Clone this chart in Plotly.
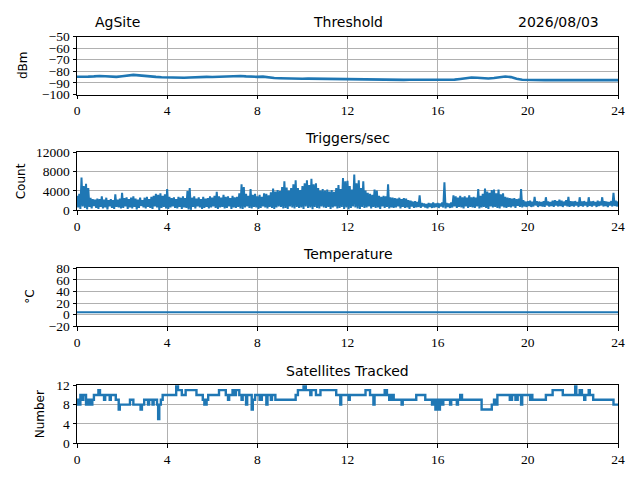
import plotly.graph_objects as go

BLUE = "#1f77b4"

# ---------------- data ----------------
# Threshold (dBm), sampled every 0.25 h from 0 to 24
thr_t = [i * 0.25 for i in range(97)]
thr_v = [-84.7, -84.9, -84.6, -84.4, -84.0, -84.3, -84.6, -84.8, -84.2, -83.6,
         -83.1, -83.5, -84.1, -84.6, -84.8, -85.1, -85.3, -85.5, -85.4, -85.5,
         -85.4, -85.1, -84.9, -84.8, -84.9, -84.7, -84.4, -84.1, -83.9, -84.0,
         -84.4, -84.9, -84.8, -84.6, -85.3, -85.8, -86.0, -86.2, -86.1, -86.3,
         -86.4, -86.3, -86.4, -86.5, -86.4, -86.3, -86.4, -86.5, -86.5, -86.6,
         -86.8, -86.9, -87.0, -87.1, -87.2, -87.3, -87.3, -87.4, -87.4, -87.3,
         -87.3, -87.4, -87.3, -87.4, -87.5, -87.5, -87.6, -87.2, -86.6, -85.9,
         -85.3, -85.6, -86.1, -86.2, -85.8, -85.2, -84.5, -85.0, -86.5, -87.3,
         -87.5, -87.6, -87.5, -87.6, -87.6, -87.5, -87.6, -87.6, -87.5, -87.6,
         -87.6, -87.5, -87.6, -87.6, -87.5, -87.6, -87.6]

# Triggers/sec: local maxima every 0.1 h (t = 0.0 ... 24.0)
trig_hi = [3000, 3400, 6800, 5000, 5500, 4600, 2600, 2300, 2200, 2400,
           2300, 2900, 2200, 2600, 2100, 2300, 2100, 3300, 2200, 2400,
           3600, 2500, 2700, 2300, 2600, 2900, 2400, 2200, 2600, 2100,
           2600, 2800, 2300, 2800, 3000, 3400, 3200, 3500, 3000, 3300,
           4400, 2800, 2500, 2700, 2300, 2800, 2600, 2900, 2500, 4000,
           4600, 2600, 2900, 2400, 2700, 2300, 2800, 2400, 2500, 2900,
           2600, 3000, 3800, 2900, 2600, 3200, 2800, 2900, 2500, 3000,
           2700, 2800, 3500, 5400, 4800, 3400, 3000, 4400, 3200, 3400,
           2900, 3200, 2800, 3500, 3400, 3100, 3700, 4500, 3900, 4200,
           4000, 4800, 6000, 4700, 4100, 4600, 5400, 6200, 4600, 4200,
           5000, 5600, 6200, 5200, 6500, 5400, 5600, 4600, 4100, 4400,
           4100, 4300, 3900, 4200, 3800, 4600, 5200, 4400, 6700, 6000,
           6100, 5000, 4300, 7400, 5600, 6200, 4600, 6000, 4100, 3600,
           3400, 3200, 4300, 4100, 3000, 2800, 3000, 2900, 5400, 2700,
           2600, 2500, 2400, 2600, 2300, 2500, 2400, 2100, 2000, 1800,
           1900, 1700, 3100, 1500, 1400, 1300, 1500, 1400, 1600, 1400,
           1500, 1400, 1600, 5800, 1500, 1400, 1600, 3100, 2900, 2600,
           3000, 2700, 2900, 2600, 3100, 2700, 2800, 2600, 4400, 3000,
           3400, 4500, 3900, 3600, 4200, 4300, 3500, 4300, 3300, 3500,
           2800, 2600, 2500, 2400, 2500, 2300, 2400, 4400, 2100, 1800,
           1900, 2000, 1800, 2800, 1900, 1800, 1700, 1900, 2700, 1800,
           1700, 2000, 2100, 1900, 2200, 2000, 1800, 2100, 2800, 1900,
           1800, 1900, 1700, 2700, 1800, 1900, 1700, 2700, 1800, 1900,
           1700, 2000, 1800, 2700, 1900, 1800, 1700, 1900, 3600, 2000,
           1800]
# Triggers/sec: local minima between them (t = 0.05 ... 23.95)
trig_lo = [600, 300, 800, 500, 200, 700, 400, 900, 500, 300,
           700, 400, 600, 200, 800, 500, 300, 700, 600, 400,
           500, 800, 300, 600, 400, 700, 200, 500, 900, 600,
           400, 700, 500, 300, 800, 600, 100, 500, 700, 400,
           300, 600, 800, 500, 400, 700, 300, 600, 500, 200,
           100, 700, 400, 800, 600, 300, 500, 700, 400, 600,
           800, 500, 300, 600, 700, 400, 500, 800, 300, 600,
           500, 700, 400, 300, 600, 800, 500, 400, 700, 600,
           300, 500, 800, 600, 400, 700, 500, 300, 600, 800,
           700, 400, 500, 300, 800, 600, 400, 700, 500, 600,
           300, 800, 500, 600, 200, 700, 500, 400, 800, 600,
           500, 700, 300, 600, 800, 400, 500, 700, 300, 600,
           200, 500, 800, 600, 400, 300, 700, 500, 600, 800,
           400, 700, 500, 600, 300, 800, 500, 700, 400, 600,
           500, 600, 800, 400, 700, 500, 600, 300, 800, 500,
           600, 700, 500, 800, 600, 400, 700, 500, 600, 700,
           500, 800, 600, 400, 700, 500, 600, 800, 500, 700,
           600, 400, 800, 500, 700, 600, 500, 800, 400, 600,
           700, 500, 300, 800, 600, 700, 500, 400, 800, 600,
           500, 700, 600, 800, 500, 900, 700, 600, 800, 700,
           900, 700, 800, 1000, 700, 900, 800, 700, 1000, 800,
           900, 700, 1000, 800, 900, 700, 1000, 800, 700, 900,
           800, 1000, 700, 900, 800, 1000, 700, 900, 800, 1000,
           700, 900, 1000, 800, 900, 700, 1000, 800, 900, 800]

# Temperature (deg C), hourly
temp_t = list(range(25))
temp_v = [4.2, 4.1, 4.0, 4.1, 4.2, 4.1, 4.0, 4.0, 4.1, 4.2, 4.2, 4.1, 4.0,
          4.1, 4.2, 4.2, 4.1, 4.0, 4.1, 4.2, 4.1, 4.1, 4.0, 4.1, 4.2]

# Satellites tracked (step changes)
sat_t = [0.00, 0.05, 0.10, 0.15, 0.25, 0.28, 0.40, 0.45, 0.50, 0.55, 0.62, 0.68,
         0.75, 0.95, 1.02, 1.20, 1.25, 1.45, 1.50, 1.72, 1.85, 1.90, 2.35, 2.50,
         2.82, 2.88, 2.98, 3.15, 3.20, 3.35, 3.40, 3.55, 3.60, 3.65, 3.72, 3.80,
         4.40, 4.48, 4.65, 4.82, 5.30, 5.58, 5.65, 5.75, 5.82, 6.30, 6.60, 6.70,
         6.75, 6.90, 7.00, 7.05, 7.20, 7.30, 7.35, 7.50, 7.55, 7.75, 7.80, 7.90,
         8.10, 8.20, 8.40, 8.45, 8.60, 8.65, 8.80, 9.70, 9.80, 10.05, 10.15, 10.35,
         10.40, 10.60, 10.80, 11.50, 11.68, 11.72, 12.05, 12.10, 12.80, 13.00, 13.15, 13.20,
         13.65, 13.75, 13.85, 13.95, 14.05, 14.40, 14.45, 15.05, 15.45, 15.75, 15.80, 15.90,
         15.95, 16.05, 16.10, 16.20, 16.25, 16.55, 16.60, 16.85, 16.90, 17.00, 17.08, 17.95,
         18.40, 18.50, 18.60, 18.65, 19.20, 19.30, 19.45, 19.55, 19.70, 19.75, 20.10, 20.15,
         20.20, 20.80, 21.10, 21.55, 22.10, 22.15, 22.30, 22.40, 22.50, 22.55, 22.70, 22.75,
         22.90, 23.80, 24.00]
sat_v = [8, 9, 8, 10, 9, 10, 8, 9, 8, 9, 8, 9,
         10, 11, 10, 9, 10, 9, 10, 9, 7, 8, 9, 8,
         7, 8, 9, 8, 9, 8, 9, 8, 5, 8, 9, 10,
         12, 11, 10, 11, 10, 9, 8, 9, 10, 11, 10, 9,
         10, 11, 10, 11, 10, 9, 10, 8, 10, 7, 9, 10,
         9, 10, 8, 10, 9, 10, 9, 10, 11, 12, 11, 10,
         11, 10, 11, 10, 8, 10, 9, 10, 11, 10, 8, 10,
         11, 10, 9, 10, 9, 8, 9, 10, 9, 8, 9, 7,
         9, 7, 9, 8, 9, 8, 9, 8, 9, 10, 9, 7,
         8, 9, 8, 10, 9, 10, 9, 10, 8, 10, 9, 10,
         9, 10, 11, 10, 12, 10, 11, 10, 9, 10, 11, 10,
         9, 8, 8]

x_ticks = [0, 4, 8, 12, 16, 20, 24]
panels = [
    dict(title="Threshold", ylabel="dBm", yrange=[-100, -50], ydtick=10, ylab_x=22.5),
    dict(title="Triggers/sec", ylabel="Count", yrange=[0, 12000], ydtick=4000, ylab_x=21),
    dict(title="Temperature", ylabel="°C", yrange=[-20, 80], ydtick=20, ylab_x=30.5),
    dict(title="Satellites Tracked", ylabel="Number", yrange=[0, 12], ydtick=4, ylab_x=40),
]

# interleave maxima and minima into one zig-zag trace (dense sampled signal)
trig_t, trig_v = [], []
for k, v in enumerate(trig_hi):
    trig_t.append(k * 0.1)
    trig_v.append(v)
    if k < len(trig_lo):
        trig_t.append(k * 0.1 + 0.05)
        trig_v.append(trig_lo[k])

# ---------------- layout geometry (pixels) ----------------
W, H = 640, 480
X0, X1 = 77, 618
tops = [36.5, 152.3, 268.3, 385.3]
PH = 58

fig = go.Figure()

fig.add_trace(go.Scatter(x=thr_t, y=thr_v, mode="lines",
                         line=dict(color=BLUE, width=2.6), xaxis="x", yaxis="y"))
fig.add_trace(go.Scatter(x=trig_t, y=trig_v, mode="lines",
                         line=dict(color=BLUE, width=2.0), xaxis="x2", yaxis="y2"))
fig.add_trace(go.Scatter(x=temp_t, y=temp_v, mode="lines",
                         line=dict(color=BLUE, width=2), xaxis="x3", yaxis="y3"))
fig.add_trace(go.Scatter(x=sat_t, y=sat_v, mode="lines", line_shape="hv",
                         line=dict(color=BLUE, width=2.4), xaxis="x4", yaxis="y4"))

tick_font = dict(family="Liberation Serif, Times New Roman, serif", size=13.5, color="black")
label_font = dict(family="DejaVu Sans", size=12, color="black")
title_font = dict(family="DejaVu Sans", size=14, color="black")

layout = dict(
    width=W, height=H, margin=dict(l=0, r=0, t=0, b=0, autoexpand=False),
    paper_bgcolor="white", plot_bgcolor="white", showlegend=False,
)
annotations = []
for i, p in enumerate(panels):
    n = "" if i == 0 else str(i + 1)
    top = tops[i]
    bot = top + PH
    common = dict(showgrid=True, gridcolor="#b0b0b0", gridwidth=0.8,
                  showline=True, mirror=True, linecolor="black", linewidth=1,
                  ticks="outside", ticklen=3.5, tickwidth=0.8, tickcolor="black",
                  tickfont=tick_font, zeroline=False, automargin=False)
    layout["xaxis" + n] = dict(domain=[X0 / W, X1 / W], range=[0, 24],
                               tickvals=x_ticks, anchor="y" + n, **common)
    layout["yaxis" + n] = dict(domain=[1 - bot / H, 1 - top / H], range=p["yrange"],
                               dtick=p["ydtick"], tick0=p["yrange"][0], tickformat="d",
                               anchor="x" + n, **common)
    annotations.append(dict(text=p["title"], x=(X0 + X1) / 2 / W, y=1 - (top - 14.5) / H,
                            xref="paper", yref="paper", xanchor="center", yanchor="middle",
                            showarrow=False, font=title_font))
    annotations.append(dict(text=p["ylabel"], x=p["ylab_x"] / W, y=1 - (top + PH / 2) / H,
                            xref="paper", yref="paper", xanchor="center", yanchor="middle",
                            textangle=-90, showarrow=False, font=label_font))

annotations.append(dict(text="AgSite", x=93 / W, y=1 - 22 / H, xref="paper", yref="paper",
                        xanchor="left", yanchor="middle", showarrow=False, font=title_font))
annotations.append(dict(text="2026/08/03", x=601 / W, y=1 - 22 / H, xref="paper", yref="paper",
                        xanchor="right", yanchor="middle", showarrow=False, font=title_font))
layout["annotations"] = annotations
fig.update_layout(**layout)

fig.write_html("out.html", config={"displayModeBar": False},
               post_script="document.body.style.margin='0';document.body.style.padding='0';")
